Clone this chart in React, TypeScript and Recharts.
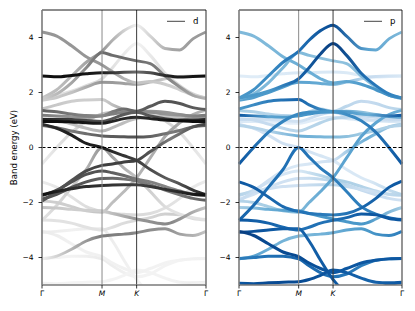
import React from 'react';
import { LineChart, Line, XAxis, YAxis, ReferenceLine } from 'recharts';

// k-path sample positions (fraction of path): Γ=0, M=0.366, K=0.577, Γ=1
const kPoints = [0, 0.09, 0.18, 0.27, 0.366, 0.43, 0.5, 0.577, 0.66, 0.75, 0.84, 0.92, 1];
const kTicks = [0, 0.366, 0.577, 1];
const kLabels = ['Γ', 'M', 'K', 'Γ'];
const energyTicks = [-4, -2, 0, 2, 4];
// positions where the orbital weights are read
const weightPoints = [0, 0.18, 0.366, 0.577, 0.79, 1];

const bandEnergies: number[][] = [
  [1.8, 2.1, 2.6, 3.1, 3.5, 3.9, 4.25, 4.45, 4.05, 3.6, 3.55, 3.95, 4.2],
  [4.2, 4.05, 3.7, 3.3, 3.0, 2.75, 2.5, 2.35, 2.4, 2.3, 2.1, 1.9, 1.8],
  [1.8, 1.9, 2.05, 2.25, 2.5, 2.9, 3.4, 3.78, 3.35, 2.7, 2.25, 1.95, 1.8],
  [1.78, 1.95, 2.35, 2.9, 3.45, 3.35, 3.25, 3.15, 3.05, 2.6, 2.2, 1.9, 1.78],
  [2.6, 2.57, 2.62, 2.68, 2.72, 2.72, 2.74, 2.75, 2.72, 2.62, 2.56, 2.58, 2.6],
  [1.72, 1.82, 2.0, 2.2, 2.37, 2.36, 2.33, 2.3, 2.38, 2.5, 2.58, 2.6, 2.6],
  [1.4, 1.55, 1.68, 1.73, 1.75, 1.55, 1.38, 1.3, 1.32, 1.28, 1.2, 1.13, 1.1],
  [1.35, 1.3, 1.22, 1.16, 1.15, 1.3, 1.4, 1.32, 1.5, 1.68, 1.6, 1.45, 1.38],
  [1.17, 1.15, 1.12, 1.1, 1.15, 1.22, 1.28, 1.3, 1.28, 1.22, 1.18, 1.15, 1.17],
  [0.95, 0.95, 0.93, 0.9, 0.88, 0.95, 1.05, 1.1, 1.05, 1.0, 0.97, 0.95, 0.95],
  [1.02, 1.03, 1.02, 0.98, 0.95, 1.05, 1.2, 1.28, 1.15, 1.05, 1.0, 1.0, 1.02],
  [0.85, 0.7, 0.45, 0.15, 0.0, -0.15, -0.3, -0.47, -0.8, -1.1, -1.32, -1.55, -1.72],
  [0.8, 0.72, 0.6, 0.5, 0.42, 0.4, 0.39, 0.38, 0.4, 0.5, 0.62, 0.75, 0.8],
  [1.05, 1.0, 0.85, 0.7, 0.6, 0.72, 0.9, 1.05, 1.1, 1.15, 1.1, 1.05, 1.05],
  [-0.6, 0.0, 0.55, 0.95, 1.22, 1.28, 1.3, 1.3, 1.2, 0.97, 0.55, 0.0, -0.6],
  [-1.95, -1.6, -1.2, -0.85, -0.65, -0.6, -0.53, -0.47, -0.15, 0.2, 0.5, 0.75, 0.85],
  [-1.75, -1.55, -1.25, -0.98, -0.85, -0.92, -1.02, -1.15, -1.25, -1.42, -1.58, -1.7, -1.75],
  [-1.88, -1.7, -1.45, -1.25, -1.13, -1.12, -1.15, -1.22, -1.35, -1.55, -1.72, -1.85, -1.92],
  [-1.72, -1.6, -1.5, -1.42, -1.38, -1.36, -1.35, -1.35, -1.42, -1.52, -1.62, -1.7, -1.72],
  [-2.65, -2.1, -1.45, -0.8, 0.0, -0.35, -0.75, -1.1, -1.6, -2.15, -2.42, -2.55, -2.62],
  [-1.95, -2.0, -2.15, -2.3, -2.35, -2.0, -1.6, -1.1, -0.38, 0.4, 0.9, 1.2, 1.35],
  [-1.25, -1.45, -1.8, -2.15, -2.33, -2.4, -2.43, -2.45, -2.4, -2.2, -1.85, -1.45, -1.22],
  [-2.18, -2.2, -2.25, -2.28, -2.3, -2.4, -2.5, -2.6, -2.7, -2.78, -2.6, -2.35, -2.18],
  [-2.64, -2.66, -2.75, -2.9, -3.0, -2.9, -2.75, -2.65, -2.55, -2.42, -2.45, -2.58, -2.64],
  [-3.05, -3.2, -3.5, -3.8, -3.97, -4.2, -4.4, -4.55, -4.4, -4.2, -4.1, -4.05, -4.04],
  [-4.05, -3.95, -3.7, -3.4, -3.22, -3.18, -3.15, -3.1, -3.0, -2.95, -3.15, -3.2, -3.05],
  [-3.08, -3.05, -3.0, -2.95, -2.95, -3.4, -4.1, -4.8, -5.25, -5.3, -5.15, -4.98, -4.92],
  [-4.04, -4.0, -3.95, -3.95, -4.05, -4.3, -4.55, -4.7, -4.6, -4.3, -4.1, -4.05, -4.04],
  [-4.94, -4.95, -4.92, -4.9, -4.88, -4.8, -4.65, -4.45, -4.55, -4.75, -4.9, -4.92, -4.9],
];

const dWeights: number[][] = [
  [0.35, 0.4, 0.5, 0.12, 0.45, 0.5],
  [0.5, 0.5, 0.5, 0.35, 0.3, 0.3],
  [0.2, 0.22, 0.25, 0.1, 0.25, 0.3],
  [0.3, 0.45, 0.65, 0.65, 0.55, 0.4],
  [0.95, 0.95, 0.9, 0.65, 0.9, 0.95],
  [0.3, 0.35, 0.5, 0.45, 0.3, 0.25],
  [0.35, 0.3, 0.3, 0.5, 0.5, 0.5],
  [0.7, 0.6, 0.55, 0.7, 0.75, 0.7],
  [0.6, 0.5, 0.6, 0.55, 0.5, 0.6],
  [0.95, 0.95, 0.9, 0.85, 0.95, 0.95],
  [0.9, 0.8, 0.75, 0.7, 0.8, 0.9],
  [0.85, 0.9, 0.9, 0.8, 0.7, 0.9],
  [0.7, 0.6, 0.7, 0.75, 0.6, 0.7],
  [0.35, 0.35, 0.4, 0.35, 0.35, 0.35],
  [0.15, 0.25, 0.35, 0.4, 0.25, 0.15],
  [0.75, 0.75, 0.8, 0.8, 0.6, 0.8],
  [0.8, 0.75, 0.75, 0.6, 0.55, 0.75],
  [0.75, 0.75, 0.7, 0.6, 0.6, 0.7],
  [0.95, 0.85, 0.85, 0.8, 0.85, 0.95],
  [0.2, 0.3, 0.5, 0.35, 0.2, 0.2],
  [0.3, 0.3, 0.35, 0.4, 0.45, 0.4],
  [0.15, 0.2, 0.25, 0.25, 0.2, 0.15],
  [0.35, 0.3, 0.3, 0.5, 0.55, 0.35],
  [0.2, 0.2, 0.2, 0.25, 0.3, 0.2],
  [0.15, 0.12, 0.12, 0.12, 0.1, 0.12],
  [0.12, 0.4, 0.6, 0.55, 0.5, 0.35],
  [0.15, 0.12, 0.15, 0.1, 0.1, 0.12],
  [0.1, 0.1, 0.15, 0.1, 0.1, 0.1],
  [0.12, 0.1, 0.1, 0.1, 0.1, 0.15],
];

const pWeights: number[][] = [
  [0.6, 0.65, 0.75, 0.9, 0.55, 0.45],
  [0.45, 0.45, 0.5, 0.5, 0.6, 0.65],
  [0.6, 0.6, 0.8, 0.95, 0.75, 0.65],
  [0.45, 0.45, 0.45, 0.4, 0.45, 0.5],
  [0.12, 0.12, 0.15, 0.15, 0.12, 0.1],
  [0.55, 0.6, 0.55, 0.5, 0.25, 0.15],
  [0.6, 0.7, 0.8, 0.6, 0.4, 0.55],
  [0.35, 0.3, 0.3, 0.3, 0.25, 0.3],
  [0.85, 0.55, 0.6, 0.65, 0.5, 0.85],
  [0.15, 0.1, 0.1, 0.15, 0.15, 0.15],
  [0.25, 0.2, 0.2, 0.25, 0.2, 0.25],
  [0.2, 0.2, 0.2, 0.15, 0.15, 0.3],
  [0.3, 0.3, 0.5, 0.45, 0.35, 0.3],
  [0.25, 0.25, 0.3, 0.3, 0.25, 0.25],
  [0.85, 0.7, 0.65, 0.6, 0.7, 0.85],
  [0.25, 0.2, 0.15, 0.2, 0.5, 0.3],
  [0.25, 0.2, 0.15, 0.35, 0.3, 0.2],
  [0.2, 0.2, 0.2, 0.3, 0.25, 0.2],
  [0.3, 0.2, 0.2, 0.3, 0.2, 0.3],
  [0.8, 0.75, 0.75, 0.7, 0.7, 0.8],
  [0.3, 0.35, 0.45, 0.55, 0.55, 0.5],
  [0.85, 0.8, 0.75, 0.7, 0.8, 0.85],
  [0.35, 0.5, 0.6, 0.6, 0.6, 0.35],
  [0.85, 0.8, 0.75, 0.75, 0.85, 0.85],
  [0.95, 0.9, 0.9, 0.85, 0.85, 0.85],
  [0.6, 0.5, 0.45, 0.5, 0.6, 0.7],
  [0.9, 0.85, 0.8, 0.85, 0.8, 0.8],
  [0.7, 0.75, 0.8, 0.75, 0.7, 0.7],
  [0.85, 0.9, 0.9, 0.85, 0.8, 0.85],
];

const greys = ['#ffffff', '#f0f0f0', '#d9d9d9', '#bdbdbd', '#969696', '#737373', '#525252', '#252525', '#000000'];
const blues = ['#f7fbff', '#deebf7', '#c6dbef', '#9ecae1', '#6baed6', '#4292c6', '#2171b5', '#08519c', '#08306b'];

const hexToRgb = (h: string) => [1, 3, 5].map((i) => parseInt(h.slice(i, i + 2), 16));
const colorAt = (stops: string[], t: number) => {
  const v = Math.max(0, Math.min(1, t));
  const pos = v * (stops.length - 1);
  const i = Math.min(Math.floor(pos), stops.length - 2);
  const f = pos - i;
  const a = hexToRgb(stops[i]);
  const b = hexToRgb(stops[i + 1]);
  const c = a.map((x, n) => Math.round(x + (b[n] - x) * f));
  return `rgb(${c[0]},${c[1]},${c[2]})`;
};

const chartData = kPoints.map((k, i) => {
  const row: Record<string, number> = { k };
  bandEnergies.forEach((band, j) => {
    row['b' + j] = band[i];
  });
  return row;
});

const FONT = 'DejaVu Sans, sans-serif';

const fmtE = (v: number) => (v < 0 ? '\u2212' + Math.abs(v) : String(v));

const KTick = (props: any) => {
  const { x, y, payload } = props;
  const idx = kTicks.indexOf(payload.value);
  const label = kLabels[idx] ?? '';
  const italic = label === 'M' || label === 'K';
  return (
    <text x={x} y={y} dy="0.71em" textAnchor="middle" fontSize={7.5} fontFamily={FONT} fill="#000" fontStyle={italic ? 'italic' : 'normal'}>
      {label}
    </text>
  );
};

const YLabel = (props: any) => {
  const vb = props.viewBox || { x: 0, y: 10, width: 42, height: 275 };
  const cx = vb.x + 17;
  const cy = vb.y + vb.height / 2;
  return (
    <text x={cx} y={cy} transform={`rotate(-90 ${cx} ${cy})`} textAnchor="middle" fontSize={8.6} fontFamily={FONT} fill="#000">
      Band energy (eV)
    </text>
  );
};

type PanelProps = {
  id: string;
  weights: number[][];
  stops: string[];
  width: number;
  yAxisWidth: number;
  showLabel: boolean;
  legend: string;
  left: number;
};

const Panel = ({ id, weights, stops, width, yAxisWidth, showLabel, legend, left }: PanelProps) => {
  const order = bandEnergies
    .map((_, j) => j)
    .sort((a, b) => {
      const ma = weights[a].reduce((s, v) => s + v, 0);
      const mb = weights[b].reduce((s, v) => s + v, 0);
      return ma - mb;
    });
  const plotLeft = left + yAxisWidth;
  return (
    <div style={{ position: 'absolute', left, top: 0, width, height: 311 }}>
      <LineChart width={width} height={311} data={chartData} margin={{ top: 10, right: 4, bottom: 0, left: 0 }}>
        <defs>
          {bandEnergies.map((_, j) => (
            <linearGradient key={j} id={`${id}-${j}`} x1="0" y1="0" x2="1" y2="0">
              {weightPoints.map((f, m) => (
                <stop key={m} offset={f} stopColor={colorAt(stops, weights[j][m])} />
              ))}
            </linearGradient>
          ))}
        </defs>
        <XAxis
          dataKey="k"
          type="number"
          domain={[0, 1]}
          ticks={kTicks}
          interval={0}
          height={26}
          tick={<KTick />}
          tickSize={3.5}
          tickMargin={2}
          axisLine={{ stroke: '#7a7a7a', strokeWidth: 1.6 }}
          tickLine={{ stroke: '#000', strokeWidth: 0.8 }}
        />
        <YAxis
          type="number"
          domain={[-5, 5]}
          allowDataOverflow
          ticks={energyTicks}
          width={yAxisWidth}
          tickFormatter={fmtE}
          tickSize={3.5}
          tickMargin={5}
          tick={{ fontSize: 7.5, fontFamily: FONT, fill: '#000' }}
          axisLine={{ stroke: '#7a7a7a', strokeWidth: 1.6 }}
          tickLine={{ stroke: '#000', strokeWidth: 0.8 }}
          label={showLabel ? <YLabel /> : undefined}
        />
        {order.map((j) => (
          <Line
            key={j}
            dataKey={'b' + j}
            type="monotone"
            stroke={`url(#${id}-${j})`}
            strokeWidth={3}
            dot={false}
            activeDot={false}
            isAnimationActive={false}
          />
        ))}
        <ReferenceLine x={0.366} stroke="#8a8a8a" strokeWidth={1} />
        <ReferenceLine x={0.577} stroke="#3a3a3a" strokeWidth={1} />
        <ReferenceLine x={1} stroke="#7a7a7a" strokeWidth={1.6} />
        <ReferenceLine y={5} stroke="#000" strokeWidth={0.9} />
        <ReferenceLine y={0} stroke="#000" strokeWidth={1.1} strokeDasharray="3.5 2" />
      </LineChart>
      <div
        style={{
          position: 'absolute',
          left: plotLeft - left + 125,
          top: 15,
          display: 'flex',
          alignItems: 'center',
          fontFamily: FONT,
          fontSize: 8.6,
          color: '#000',
          lineHeight: '12px',
        }}
      >
        <svg width={20} height={12} style={{ display: 'block' }}>
          <line x1={0} y1={6.3} x2={18} y2={6.3} stroke="#444" strokeWidth={1} />
        </svg>
        <span style={{ marginLeft: 6 }}>{legend}</span>
      </div>
    </div>
  );
};

export default function App() {
  return (
    <div style={{ position: 'absolute', left: 0, top: 0, width: 415, height: 311, background: '#fff' }}>
      <Panel id="gd" weights={dWeights} stops={greys} width={210} yAxisWidth={42} showLabel legend="d" left={0} />
      <Panel id="gp" weights={pWeights} stops={blues} width={196} yAxisWidth={29} showLabel={false} legend="p" left={210} />
    </div>
  );
}
